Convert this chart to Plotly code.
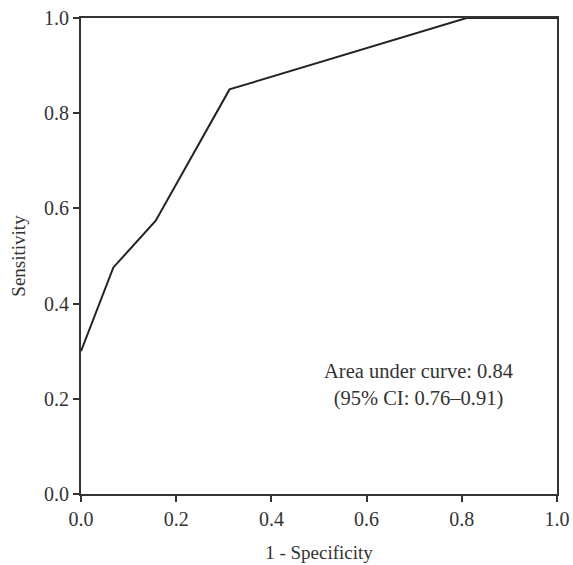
import plotly.graph_objects as go

fpr = [0.0, 0.068, 0.157, 0.312, 0.81, 1.0]
tpr = [0.30, 0.476, 0.574, 0.850, 1.0, 1.0]
tick_vals = [0.0, 0.2, 0.4, 0.6, 0.8, 1.0]
tick_text = ["0.0", "0.2", "0.4", "0.6", "0.8", "1.0"]
auc_text = "Area under curve: 0.84<br>(95% CI: 0.76–0.91)"

font = "Liberation Serif, DejaVu Serif, serif"
fig = go.Figure()
fig.add_trace(go.Scatter(x=fpr, y=tpr, mode="lines",
                         line=dict(color="#222222", width=2), showlegend=False,
                         cliponaxis=False))
axis_common = dict(range=[0, 1], showgrid=False, zeroline=False, showline=True,
                   linecolor="#333333", linewidth=2, mirror=True, automargin=False,
                   ticks="outside", ticklen=6, tickwidth=2, tickcolor="#333333",
                   tickvals=tick_vals, ticktext=tick_text, ticklabeloverflow="allow",
                   tickfont=dict(family=font, size=20, color="#333333"))
fig.update_xaxes(title=dict(text="1 - Specificity", font=dict(family=font, size=19, color="#333333"), standoff=17), **axis_common)
fig.update_yaxes(title=dict(text="Sensitivity", font=dict(family=font, size=19, color="#333333"), standoff=13), **axis_common)
fig.add_annotation(x=0.71, y=0.229, xref="x", yref="y", text=auc_text, showarrow=False,
                   font=dict(family=font, size=20.5, color="#333333"), align="center")
fig.update_layout(width=573, height=565, margin=dict(l=81, r=16, t=18, b=71),
                  paper_bgcolor="white", plot_bgcolor="white")
fig.write_html("out.html", config={"displayModeBar": False},
               post_script="document.body.style.margin='0';document.body.style.overflow='hidden';")
